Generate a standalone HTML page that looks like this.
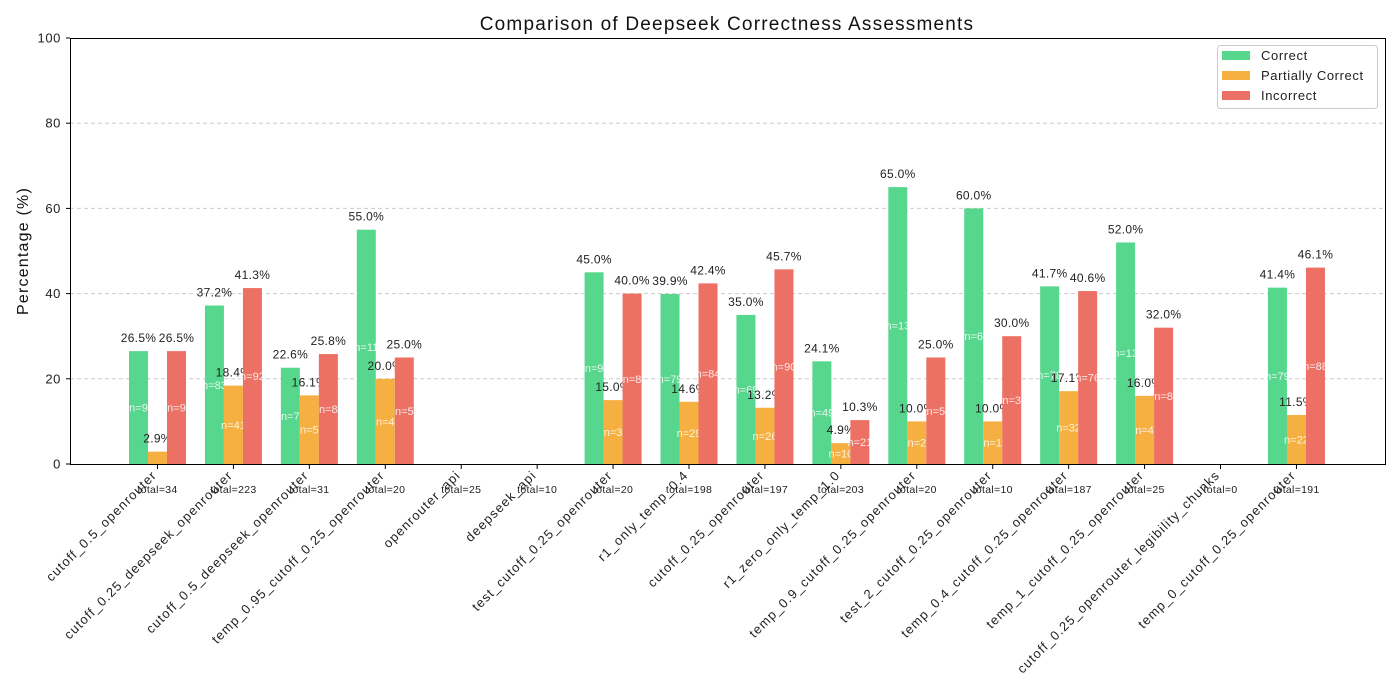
<!DOCTYPE html>
<html><head><meta charset="utf-8"><style>
body{margin:0;background:#fff;}
svg{display:block;font-family:"Liberation Sans",sans-serif;}
</style></head><body>
<svg id="chart" width="1400" height="700">
<rect x="0" y="0" width="1400" height="700" fill="#fff"/>
<text x="727" y="30" font-size="19" letter-spacing="1.2" text-anchor="middle" fill="#111">Comparison of Deepseek Correctness Assessments</text>
<g id="grid"></g>
<g id="bars"></g>
<rect x="70.5" y="38.5" width="1315" height="426" fill="none" stroke="#000" stroke-width="1"/>
<g id="yaxis"></g>
<g id="xaxis"></g>
<text transform="translate(28,251) rotate(-90)" font-size="16" letter-spacing="1.2" text-anchor="middle" fill="#111">Percentage (%)</text>
<g>
<rect x="1217.5" y="45.5" width="160" height="63" rx="3" fill="#fff" stroke="#ccc"/>
<rect x="1222" y="51" width="28" height="9" fill="#57d68d"/><text x="1261" y="60" font-size="13" letter-spacing="0.6" fill="#222">Correct</text>
<rect x="1222" y="71" width="28" height="9" fill="#f5b041"/><text x="1261" y="80" font-size="13" letter-spacing="0.6" fill="#222">Partially Correct</text>
<rect x="1222" y="91" width="28" height="9" fill="#ec7063"/><text x="1261" y="100" font-size="13" letter-spacing="0.6" fill="#222">Incorrect</text>
</g>
</svg>
<script>
const categories=["cutoff_0.5_openrouter","cutoff_0.25_deepseek_openrouter","cutoff_0.5_deepseek_openrouter","temp_0.95_cutoff_0.25_openrouter","openrouter_api","deepseek_api","test_cutoff_0.25_openrouter","r1_only_temp_0.4","cutoff_0.25_openrouter","r1_zero_only_temp_1.0","temp_0.9_cutoff_0.25_openrouter","test_2_cutoff_0.25_openrouter","temp_0.4_cutoff_0.25_openrouter","temp_1_cutoff_0.25_openrouter","cutoff_0.25_openrouter_legibility_chunks","temp_0_cutoff_0.25_openrouter"];
const correct=[26.5,37.2,22.6,55.0,0,0,45.0,39.9,35.0,24.1,65.0,60.0,41.7,52.0,0,41.4];
const partial=[2.9,18.4,16.1,20.0,0,0,15.0,14.6,13.2,4.9,10.0,10.0,17.1,16.0,0,11.5];
const incorrect=[26.5,41.3,25.8,25.0,0,0,40.0,42.4,45.7,10.3,25.0,30.0,40.6,32.0,0,46.1];
const nCorrect=[9,83,7,11,0,0,9,79,69,49,13,6,78,13,0,79];
const nPartial=[1,41,5,4,0,0,3,29,26,10,2,1,32,4,0,22];
const nIncorrect=[9,92,8,5,0,0,8,84,90,21,5,3,76,8,0,88];
const totals=[34,223,31,20,25,10,20,198,197,203,20,10,187,25,0,191];
const yTicks=[0,20,40,60,80,100];

const NS="http://www.w3.org/2000/svg";
const y=v=>464-v*4.26;
const xc=i=>157.5+i*75.93;
const BW=19;
function mk(tag,attrs,parent,text){const e=document.createElementNS(NS,tag);for(const k in attrs)e.setAttribute(k,attrs[k]);if(text!==undefined)e.textContent=text;parent.appendChild(e);return e;}
const grid=document.getElementById('grid'),bars=document.getElementById('bars'),ya=document.getElementById('yaxis'),xa=document.getElementById('xaxis');
yTicks.forEach(t=>{
  if(t>0&&t<100){const g=mk('line',{x1:70,x2:1385,y1:y(t),y2:y(t),stroke:'#ccc','stroke-dasharray':'4,3'},grid);
  
  }
  mk('line',{x1:66,x2:70,y1:y(t),y2:y(t),stroke:'#000'},ya);
  const l=mk('text',{x:61,y:y(t)+4.5,'font-size':13,'letter-spacing':0.6,'text-anchor':'end',fill:'#222'},ya,String(t));
  
  
});
const series=[[correct,nCorrect,'#57d68d',-1,'correct'],[partial,nPartial,'#f5b041',0,'partial'],[incorrect,nIncorrect,'#ec7063',1,'incorrect']];
categories.forEach((c,i)=>{
  const cx=xc(i);
  series.forEach(([vals,ns,col,off,nm])=>{
    const v=vals[i];if(v<=0)return;
    const x0=cx+off*BW-BW/2;
    const r=mk('rect',{x:x0,y:y(v),width:BW,height:v*4.26,fill:col},bars);
    
    
    const t=mk('text',{x:x0+BW/2,y:y(v)-9,'font-size':12,'letter-spacing':0.3,'text-anchor':'middle',fill:'#222'},bars,v.toFixed(1)+'%');
    
    
    if(v>=4){const n=mk('text',{x:x0+BW/2,y:y(v/2)+4,'font-size':11,'text-anchor':'middle',fill:'#fff','fill-opacity':0.85},bars,'n='+ns[i]);
    
    }
  });
  mk('line',{x1:cx,x2:cx,y1:464,y2:469,stroke:'#000'},xa);
  const tl=mk('text',{transform:`translate(${cx},${476}) rotate(-45)`,'font-size':13,'letter-spacing':1.1,'text-anchor':'end',fill:'#222'},xa,c);
  
  
  const tt=mk('text',{x:cx,y:493,'font-size':10.5,'letter-spacing':0.3,'text-anchor':'middle',fill:'#222'},xa,'total='+totals[i]);
  
  
});
</script>
</body></html>
